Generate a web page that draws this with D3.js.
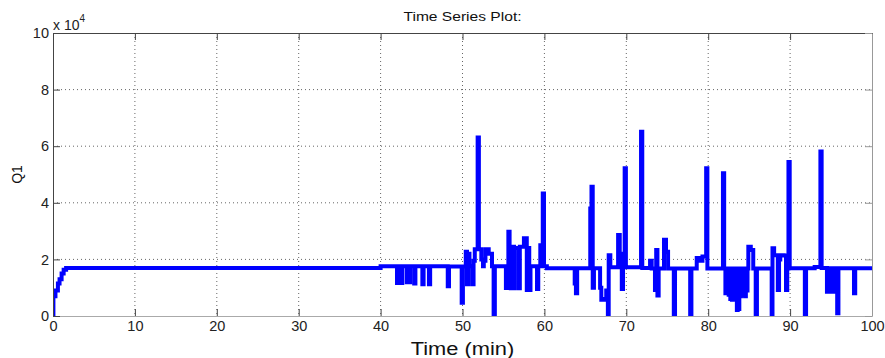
<!DOCTYPE html>
<html>
<head>
<meta charset="utf-8">
<script src="https://cdn.jsdelivr.net/npm/d3@7"></script>
<style>
  body { margin: 0; background: #fff; }
  svg { display: block; font-family: Arial, 'Liberation Sans', sans-serif; }
</style>
</head>
<body>
<div id="chart"></div>
<script>
// tick values
const xTicks = [0, 10, 20, 30, 40, 50, 60, 70, 80, 90, 100];
const yTicks = [0, 20000, 40000, 60000, 80000, 100000];

// Q1 series (held until the next time stamp)
const timeMin = [
  0, 0.05, 0.3, 0.6, 0.8, 1.05, 1.3, 1.6,
  40, 42.0, 42.15, 42.5, 42.65, 43.2, 43.6, 44.1, 44.25, 45.1, 45.25, 45.9, 46.05,
  48.2, 48.35, 49.9, 50.05, 50.4, 50.55, 50.7, 50.85, 51.2, 51.35, 51.5, 51.85, 52.0,
  52.3, 52.5, 52.6, 52.8, 53.2, 53.6, 53.8, 53.95,
  55.3, 55.45, 55.6, 55.75, 55.9, 56.0, 56.3, 56.4, 56.9, 57.0, 57.5, 57.85, 57.95, 58.15, 58.3,
  59.1, 59.25, 59.5, 59.8, 59.95, 60.3,
  63.7, 63.85, 64.0, 65.6, 65.75, 65.9, 66.05, 66.8, 66.95, 67.3, 67.55, 67.75, 67.85, 68.05,
  69.0, 69.2, 69.45, 69.6, 69.8, 69.95, 71.8, 71.95,
  72.9, 73.1, 73.5, 73.65, 73.8, 73.95, 74.6, 74.85, 75.1, 75.8, 75.95, 77.8, 77.95,
  78.6, 79.0, 79.3, 79.75, 79.9, 81.8, 81.95,
  82.1, 82.2, 82.3, 82.4, 82.5, 82.6, 82.7, 82.8, 82.9, 83.0, 83.1, 83.2, 83.3, 83.4,
  83.5, 83.6, 83.7, 83.8, 83.9, 84.0, 84.1, 84.2, 84.3, 84.4, 84.5, 84.6, 84.7, 84.8,
  84.9, 85.2, 85.5, 85.8, 85.95,
  87.75, 87.85, 88.05, 88.5, 88.65, 88.8, 89.2, 89.5, 89.65, 89.8, 89.95,
  91.8, 91.95, 93.0, 93.7, 93.85,
  94.5, 94.6, 94.7, 94.8, 94.9, 95.0, 95.1, 95.2, 95.3, 95.4, 95.5, 95.6, 95.75, 95.9,
  97.8, 97.95, 100
];
const q1 = [
  0, 7000, 9000, 11500, 13000, 15000, 16300, 17000,
  17600, 11700, 17600, 11700, 17600, 11900, 17600, 11500, 17600, 11200, 17600, 11200, 17600,
  10500, 17500, 4700, 17500, 22700, 11200, 22000, 17600, 11200, 19500, 23600, 63100, 23600,
  20000, 17600, 19500, 23600, 22000, 17600, 0, 17600,
  9900, 17600, 29800, 24500, 9800, 24500, 9800, 24000, 9800, 24500, 27500, 9200, 24000, 9200, 17600,
  9500, 17600, 25000, 43300, 17600, 16900,
  11500, 8000, 16900, 38000, 45700, 10000, 16900, 10000, 5700, 6000, 9000, 0, 21500, 17200,
  28600, 22000, 9500, 17500, 52200, 17200, 65100, 17000,
  19500, 16800, 9200, 23300, 7200, 16800, 26900, 22700, 16800, 0, 16800, 0, 16800,
  20500, 19500, 21000, 52200, 16800, 50400, 16800,
  8000, 16800, 8000, 16800, 7500, 16800, 6000, 16800, 5700, 16800, 5800, 16800, 6000, 16800,
  2100, 16800, 2500, 16800, 7000, 16800, 7500, 16800, 8000, 16800, 7000, 16800, 9000, 16800,
  24500, 23300, 16800, 0, 16800,
  0, 23900, 21500, 9200, 20000, 21500, 21400, 9200, 16800, 54400, 16900,
  0, 16900, 17300, 58100, 17000,
  8600, 16900, 8600, 16900, 8600, 16900, 8600, 16900, 8600, 16900, 8600, 16900, 1000, 16900,
  8000, 16900, 16900
];

const width = 885;
const height = 358;
const margin = { top: 33, right: 13, bottom: 42, left: 53 };
const plotW = width - margin.left - margin.right;
const plotH = height - margin.top - margin.bottom;

const svg = d3.select('#chart').append('svg')
  .attr('width', width)
  .attr('height', height);

const g = svg.append('g')
  .attr('transform', 'translate(' + margin.left + ',' + margin.top + ')');

const x = d3.scaleLinear().domain([0, 100]).range([0, plotW]);
const y = d3.scaleLinear().domain([0, 100000]).range([plotH, 0]);

// dotted grid
g.append('g')
  .selectAll('line')
  .data(xTicks.slice(1, -1))
  .enter()
  .append('line')
  .attr('x1', d => x(d)).attr('x2', d => x(d))
  .attr('y1', 0).attr('y2', plotH)
  .attr('stroke', '#666')
  .attr('stroke-dasharray', '1,3');

g.append('g')
  .selectAll('line')
  .data(yTicks.slice(1, -1))
  .enter()
  .append('line')
  .attr('x1', 0).attr('x2', plotW)
  .attr('y1', d => y(d)).attr('y2', d => y(d))
  .attr('stroke', '#666')
  .attr('stroke-dasharray', '1,3');

// data line, clipped to the axes box
svg.append('defs').append('clipPath')
  .attr('id', 'plotClip')
  .append('rect')
  .attr('width', plotW)
  .attr('height', plotH);

const points = timeMin.map((t, i) => [t, q1[i]]);

const line = d3.line()
  .x(d => x(d[0]))
  .y(d => y(d[1]))
  .curve(d3.curveStepAfter);

g.append('path')
  .datum(points)
  .attr('clip-path', 'url(#plotClip)')
  .attr('fill', 'none')
  .attr('stroke', '#0000ff')
  .attr('stroke-width', 4)
  .attr('d', line);

// axes with inward ticks on all four sides
const tickLen = 7;
const axisColor = '#444';

g.append('g')
  .attr('transform', 'translate(0,' + plotH + ')')
  .call(d3.axisBottom(x).tickValues(xTicks).tickSizeInner(-tickLen).tickSizeOuter(0).tickPadding(5))
  .call(a => a.select('.domain').attr('stroke', '#aaa'))
  .call(a => a.selectAll('line').attr('stroke', axisColor))
  .call(a => a.selectAll('text').attr('font-size', '14.5px').attr('fill', '#222'));

g.append('g')
  .call(d3.axisTop(x).tickValues(xTicks).tickSizeInner(-tickLen).tickSizeOuter(0).tickFormat(''))
  .call(a => a.select('.domain').attr('stroke', axisColor))
  .call(a => a.selectAll('line').attr('stroke', axisColor));

g.append('g')
  .call(d3.axisLeft(y).tickValues(yTicks).tickSizeInner(-tickLen).tickSizeOuter(0)
    .tickPadding(4)
    .tickFormat(d => d / 10000))
  .call(a => a.select('.domain').attr('stroke', axisColor))
  .call(a => a.selectAll('line').attr('stroke', axisColor))
  .call(a => a.selectAll('text').attr('font-size', '14.5px').attr('fill', '#222'));

g.append('g')
  .attr('transform', 'translate(' + plotW + ',0)')
  .call(d3.axisRight(y).tickValues(yTicks).tickSizeInner(-tickLen).tickSizeOuter(0).tickFormat(''))
  .call(a => a.select('.domain').attr('stroke', '#999'))
  .call(a => a.selectAll('line').attr('stroke', '#999'));

// exponent label above the y axis
const expo = svg.append('text')
  .attr('x', margin.left)
  .attr('y', margin.top - 3)
  .attr('font-size', '14px')
  .attr('fill', '#222');
expo.append('tspan').text('x 10');
expo.append('tspan').attr('dy', -8).attr('font-size', '10px').text('4');

// title
svg.append('text')
  .attr('transform', 'translate(' + (margin.left + plotW / 2) + ',21) scale(1.2,1)')
  .attr('text-anchor', 'middle')
  .attr('font-size', '13px')
  .attr('fill', '#111')
  .text('Time Series Plot:');

// axis labels
svg.append('text')
  .attr('transform', 'translate(22,' + (margin.top + plotH / 2) + ') rotate(-90)')
  .attr('text-anchor', 'middle')
  .attr('font-size', '14px')
  .attr('fill', '#111')
  .text('Q1');

svg.append('text')
  .attr('transform', 'translate(' + (margin.left + plotW / 2) + ',355) scale(1.15,1)')
  .attr('text-anchor', 'middle')
  .attr('font-size', '19px')
  .attr('fill', '#111')
  .text('Time (min)');
</script>
</body>
</html>
